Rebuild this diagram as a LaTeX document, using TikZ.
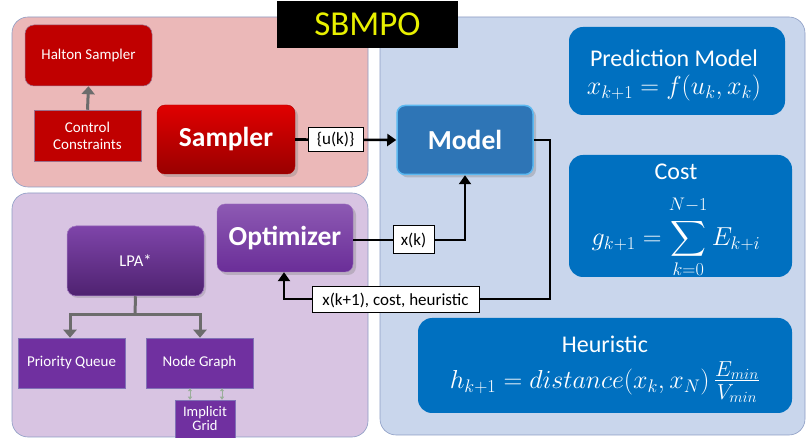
\RequirePackage{fix-cm}
\documentclass[tikz,border=0pt]{standalone}
\usepackage{exscale}
\usepackage{fontspec}
\setmainfont{Carlito}
\usetikzlibrary{shadows,arrows.meta}
\definecolor{panRed}{HTML}{EBB8B8}
\definecolor{panPur}{HTML}{D8C4E2}
\definecolor{panBlu}{HTML}{C9D6EC}
\definecolor{panEdge}{HTML}{8C9CC4}
\definecolor{dred}{HTML}{C00000}
\definecolor{dpur}{HTML}{7030A0}
\definecolor{dblu}{HTML}{0070C0}
\definecolor{mblu}{HTML}{2E75B6}
\definecolor{glow}{HTML}{5BB8F0}
\definecolor{ttlY}{HTML}{E8F000}
\definecolor{smallg}{HTML}{9AAE9A}
\begin{document}
\begin{tikzpicture}[x=1pt,y=-1pt,
  panel/.style={draw=panEdge,line width=0.6pt,rounded corners=16pt},
  redbox/.style={draw=panEdge!70!dred,line width=0.5pt,fill=dred,text=white,font=\fontsize{15}{18}\selectfont,align=center},
  purbox/.style={draw=panEdge!60!dpur,line width=0.5pt,fill=dpur,text=white,font=\fontsize{15}{18}\selectfont,align=center},
  mainbox/.style={rounded corners=8pt,text=white,font=\fontsize{27.5}{30}\selectfont\bfseries,drop shadow={shadow xshift=3pt,shadow yshift=-3pt,opacity=0.35}},
  infobox/.style={rounded corners=14pt,fill=dblu,text=white,align=center,font=\fontsize{24}{28}\selectfont},
  mathtxt/.style={text=white,font=\fontsize{26}{30}\selectfont,inner sep=0pt},
  lbl/.style={draw=black,line width=1pt,fill=white,font=\fontsize{17}{19}\selectfont,inner sep=0pt},
  conn/.style={line width=2.6pt,-{Triangle[length=9pt,width=12pt]}},
  gconn/.style={draw=gray!85!black,line width=3pt,-{Triangle[length=8pt,width=13pt]}},
  tinyarr/.style={draw=smallg,line width=1pt,{Triangle[length=3pt,width=4pt]}-{Triangle[length=3pt,width=4pt]}}
]
\useasboundingbox (0,0) rectangle (807,438);
% panels
\path[panel,fill=panBlu] (380,17) rectangle (805,435);
\path[panel,fill=panRed] (12,17) rectangle (368,187);
\path[panel,fill=panPur] (12,193) rectangle (368,437);
% title
\node[fill=black,minimum width=181pt,minimum height=47pt,inner sep=0pt,text=ttlY,font=\fontsize{35}{38}\selectfont] (title) at (367.5,24.5) {SBMPO};
% red region
\node[redbox,rounded corners=9pt,minimum width=127pt,minimum height=61pt,inner sep=0pt] (halton) at (88.5,55.5) {Halton Sampler};
\node[redbox,minimum width=107pt,minimum height=51pt,inner sep=0pt] (ctrl) at (87.5,135.5) {Control\\[-1pt]Constraints};
\node[mainbox,top color=red!88!black,bottom color=red!60!black,draw=red!70!black,minimum width=138pt,minimum height=69pt,inner sep=0pt] (sampler) at (226,139.5) {Sampler};
% blue region
\node[mainbox,fill=mblu,draw=glow,line width=1.5pt,minimum width=136pt,minimum height=69pt,inner sep=0pt] (model) at (465,140) {Model};
\node[infobox,minimum width=216pt,minimum height=88pt,inner sep=0pt] (pred) at (677,71) {};
\node[text=white,font=\fontsize{24}{28}\selectfont,inner sep=0pt] (predt) at (674,58) {Prediction Model};
\node[mathtxt] (predm) at (674,88) {$x_{k+1}=f(u_k,x_k)$};
\node[infobox,minimum width=223pt,minimum height=122pt,inner sep=0pt] (cost) at (680.5,216) {};
\node[text=white,font=\fontsize{24}{28}\selectfont,inner sep=0pt] (costt) at (676,172) {Cost};
\node[mathtxt] (costm) at (676,237) {$g_{k+1}=\displaystyle\sum_{\raisebox{-2pt}{$\scriptstyle k=0$}}^{\raisebox{3pt}{$\scriptstyle N-1$}}E_{k+i}$};
\node[infobox,minimum width=374pt,minimum height=95pt,inner sep=0pt] (heur) at (605,365.5) {};
\node[text=white,font=\fontsize{24}{28}\selectfont,inner sep=0pt] (heurt) at (605,344) {Heuristic};
\node[mathtxt] (heurm) at (605,382) {$h_{k+1}=distance(x_k,x_N)\,$\fontsize{31}{34}\selectfont$\frac{E_{min}}{V_{min}}$};
% purple region
\node[mainbox,top color=dpur!80!white,bottom color=dpur!95!black,draw=dpur!70!white,minimum width=136pt,minimum height=68pt,inner sep=0pt] (opt) at (285,238) {Optimizer};
\node[purbox,rounded corners=9pt,top color=dpur!90!white,bottom color=dpur!70!black,draw=dpur!60!white,minimum width=137pt,minimum height=70pt,inner sep=0pt,font=\fontsize{16.5}{18}\selectfont,drop shadow={shadow xshift=2pt,shadow yshift=-2pt,opacity=0.3}] (lpa) at (135.5,261) {LPA*};
\node[purbox,minimum width=107pt,minimum height=50pt,inner sep=0pt] (pq) at (71.5,363) {Priority Queue};
\node[purbox,minimum width=107pt,minimum height=50pt,inner sep=0pt] (ng) at (199.5,363) {Node Graph};
\node[purbox,minimum width=60pt,minimum height=38pt,inner sep=0pt,font=\fontsize{14.5}{15}\selectfont] (ig) at (205,419) {Implicit\\[-1pt]Grid};
% gray arrows
\draw[gconn] (ctrl.north) -- (halton.south);
\coordinate (split) at (135,315);
\draw[draw=gray!85!black,line width=3pt] (lpa.south) -- (split);
\draw[gconn] (split) -| (pq.north -| 70,0);
\draw[gconn] (split) -| (ng.north -| 200,0);
\draw[tinyarr] (ng.south -| 190,0) -- (ig.north -| 190,0);
\draw[tinyarr] (ng.south -| 222,0) -- (ig.north -| 222,0);
% black connectors
\draw[conn] (sampler.east) -- (model.west) node[lbl,pos=0.4,minimum width=55pt,minimum height=24pt] (ulbl) {\{u(k)\}};
\coordinate (xkc) at (465,240);
\draw[conn] (opt.east |- 0,240) -- (xkc) -- (model.south);
\node[lbl,minimum width=41pt,minimum height=28pt] (xklbl) at (413.5,240) {x(k)};
\coordinate (fb1) at (550,140);
\coordinate (fb2) at (550,299);
\coordinate (fb3) at (284,299);
\draw[conn] (model.east) -- (fb1) -- (fb2) -- (fb3) -- (opt.south -| fb3);
\node[lbl,minimum width=167pt,minimum height=26pt] (fblbl) at (395.5,300) {x(k+1), cost, heuristic};
\end{tikzpicture}
\end{document}
